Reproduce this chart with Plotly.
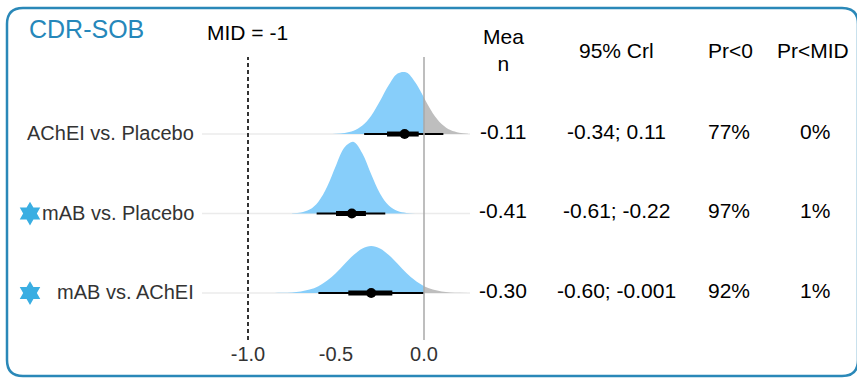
import plotly.graph_objects as go

# ---------------- data ----------------
comparisons = ["AChEI vs. Placebo", "mAB vs. Placebo", "mAB vs. AChEI"]
row_pos = [3, 2, 1]
means = [-0.11, -0.41, -0.30]
cri_lo = [-0.34, -0.61, -0.60]
cri_hi = [0.11, -0.22, -0.001]
inner_lo = [-0.21, -0.50, -0.43]
inner_hi = [-0.03, -0.33, -0.18]
mean_text = ["-0.11", "-0.41", "-0.30"]
cri_text = ["-0.34; 0.11", "-0.61; -0.22", "-0.60; -0.001"]
pr_lt0 = ["77%", "97%", "92%"]
pr_lt_mid = ["0%", "1%", "1%"]
starred = [False, True, True]
mid_value = -1.0
x_ticks = [-1.0, -0.5, 0.0]
x_ticktext = ["-1.0", "-0.5", "0.0"]
headers = ["Mea<br>n", "95% Crl", "Pr&lt;0", "Pr&lt;MID"]

# posterior density heights (density units)
dens_x = [
    [-0.55, -0.50, -0.45, -0.40, -0.35, -0.30, -0.25, -0.20, -0.15, -0.10, -0.05, 0.00,
     0.05, 0.10, 0.15, 0.20, 0.25],
    [-0.75, -0.70, -0.65, -0.60, -0.55, -0.50, -0.45, -0.40, -0.35, -0.30, -0.25, -0.20,
     -0.15, -0.10, -0.05],
    [-0.95, -0.90, -0.85, -0.80, -0.75, -0.70, -0.65, -0.60, -0.55, -0.50, -0.45, -0.40,
     -0.35, -0.30, -0.25, -0.20, -0.15, -0.10, -0.05, 0.00, 0.05, 0.10, 0.15, 0.20, 0.25],
]
dens_y = [
    [0.003, 0.015, 0.056, 0.18, 0.47, 1.02, 1.83, 2.72, 3.36, 3.42, 2.88, 2.01,
     1.16, 0.56, 0.22, 0.072, 0.02],
    [0.012, 0.06, 0.22, 0.66, 1.50, 2.67, 3.69, 3.98, 3.34, 2.18, 1.11, 0.44,
     0.14, 0.033, 0.006],
    [0.0003, 0.001, 0.004, 0.013, 0.035, 0.085, 0.19, 0.38, 0.69, 1.11, 1.62, 2.11,
     2.47, 2.61, 2.47, 2.11, 1.62, 1.11, 0.69, 0.38, 0.19, 0.085, 0.035, 0.013, 0.004],
]

# ---------------- style / layout constants ----------------
W, H = 857, 378
MT, MB = 57, 38
PH = H - MT - MB
PX_PER_UNIT = 176.0
ZERO_PX = 424.0
YR = [0.409, 3.969]
DENS_SCALE = 0.2264
BLUE = "#87CEFA"
GREY = "#BEBEBE"
FRAME = "#2A88B8"
TITLE = "#2587BA"
STAR = "#3AAEE2"
GRID = "#EBEBEB"
FONT = "Liberation Sans, Arial, sans-serif"


def dx(p):
    """horizontal pixel -> x data value"""
    return (p - ZERO_PX) / PX_PER_UNIT


def pxx(p):
    return p / W


def pxy(p):
    return (H - MB - p) / PH


XR = [dx(0), dx(W)]
PANEL = [dx(202), dx(470)]

fig = go.Figure()

# panel gridlines
for r in row_pos:
    fig.add_trace(go.Scatter(x=PANEL, y=[r, r], mode="lines",
                             line=dict(color=GRID, width=1.5),
                             hoverinfo="skip", showlegend=False))

# densities
for r, xs, ys in zip(row_pos, dens_x, dens_y):
    for part, color in (("neg", BLUE), ("pos", GREY)):
        if part == "neg":
            idx = [i for i, v in enumerate(xs) if v <= 0]
        else:
            idx = [i for i, v in enumerate(xs) if v >= 0]
        if len(idx) < 2:
            continue
        sx = [xs[i] for i in idx]
        sy = [r + ys[i] * DENS_SCALE for i in idx]
        fig.add_trace(go.Scatter(x=sx, y=[r] * len(sx), mode="lines",
                                 line=dict(width=0, color=color),
                                 hoverinfo="skip", showlegend=False))
        fig.add_trace(go.Scatter(x=sx, y=sy, mode="lines", fill="tonexty",
                                 fillcolor=color,
                                 line=dict(width=0, color=color, shape="spline"),
                                 hoverinfo="skip", showlegend=False))

# intervals
for r, lo, hi, ilo, ihi, m in zip(row_pos, cri_lo, cri_hi, inner_lo, inner_hi, means):
    fig.add_trace(go.Scatter(x=[lo, hi], y=[r, r], mode="lines",
                             line=dict(color="black", width=2),
                             showlegend=False, hoverinfo="skip"))
    fig.add_trace(go.Scatter(x=[ilo, ihi], y=[r, r], mode="lines",
                             line=dict(color="black", width=5),
                             showlegend=False, hoverinfo="skip"))
    fig.add_trace(go.Scatter(x=[m], y=[r], mode="markers",
                             marker=dict(color="black", size=10),
                             showlegend=False, hoverinfo="skip"))

# stars for favourable comparisons
star_rows = [r for r, s in zip(row_pos, starred) if s]
fig.add_trace(go.Scatter(x=[dx(30)] * len(star_rows), y=star_rows, mode="markers",
                         marker=dict(symbol="hexagram", size=18, color=STAR,
                                     line=dict(width=0)),
                         showlegend=False, hoverinfo="skip"))

# reference lines
fig.add_shape(type="line", x0=mid_value, x1=mid_value, y0=0, y1=1, yref="paper",
              line=dict(color="#333333", width=2, dash="4px,3px"), layer="above")
fig.add_shape(type="line", x0=0, x1=0, y0=0, y1=1, yref="paper",
              line=dict(color="#A9A9A9", width=1.5), layer="above")

# rounded frame (right edge runs just past the picture border)
L, R, T, B, rad = 7, 858, 8, 376, 16


def P(x, y):
    return f"{pxx(x):.5f},{pxy(y):.5f}"


path = (f"M {P(L, T + rad)} Q {P(L, T)} {P(L + rad, T)} L {P(R - rad, T)} "
        f"Q {P(R, T)} {P(R, T + rad)} L {P(R, B - rad)} Q {P(R, B)} {P(R - rad, B)} "
        f"L {P(L + rad, B)} Q {P(L, B)} {P(L, B - rad)} Z")
fig.add_shape(type="path", path=path, xref="paper", yref="paper",
              line=dict(color=FRAME, width=2.5), layer="above")

ann = []
ann.append(dict(text="CDR-SOB", x=pxx(27), y=pxy(29), xanchor="left", yanchor="middle",
                font=dict(size=25, color=TITLE)))
ann.append(dict(text=f"MID = {mid_value:g}", x=pxx(247), y=pxy(32), xanchor="center",
                yanchor="middle", font=dict(size=21, color="black")))

col_x = [503, 616, 729, 815]
header_x = [503, 616, 730, 813]
for cx, h in zip(header_x, headers):
    ann.append(dict(text=h, x=pxx(cx), y=pxy(50), xanchor="center", yanchor="middle",
                    font=dict(size=21, color="black")))

for r, lab in zip(row_pos, comparisons):
    ann.append(dict(text=lab, x=dx(196), xref="x", y=r, yref="y", xanchor="right",
                    yanchor="middle", yshift=1, font=dict(size=20, color="#333333")))

for r, a, b, c, d in zip(row_pos, mean_text, cri_text, pr_lt0, pr_lt_mid):
    for cx, t in zip(col_x, (a, b, c, d)):
        ann.append(dict(text=t, x=pxx(cx), y=r, yref="y", xanchor="center",
                        yanchor="middle", yshift=3, font=dict(size=21, color="black")))

for a in ann:
    a.setdefault("xref", "paper")
    a.setdefault("yref", "paper")
    a["showarrow"] = False

fig.update_layout(
    width=W, height=H,
    margin=dict(l=0, r=0, t=MT, b=MB, pad=0),
    paper_bgcolor="white", plot_bgcolor="white",
    font=dict(family=FONT, color="black"),
    annotations=ann,
    xaxis=dict(range=XR, tickvals=x_ticks, ticktext=x_ticktext, showgrid=False,
               zeroline=False, showline=False, ticks="",
               tickfont=dict(size=20, color="#333333")),
    yaxis=dict(range=YR, showticklabels=False, showgrid=False, zeroline=False,
               showline=False, ticks=""),
    showlegend=False,
)

fig.write_html("out.html", config={"displayModeBar": False},
               post_script="document.body.style.margin='0px';")
